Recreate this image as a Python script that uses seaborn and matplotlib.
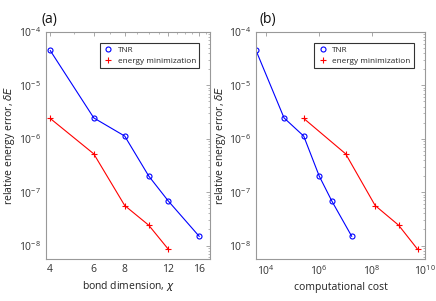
import numpy as np
import pandas as pd
import seaborn as sns
import matplotlib
matplotlib.use("Agg")
import matplotlib.pyplot as plt
from matplotlib.ticker import LogLocator, FixedLocator, NullFormatter, FixedFormatter

# ---- data ----
chi_tnr = [4, 6, 8, 10, 12, 16]
err_tnr = [4.5e-5, 2.45e-6, 1.12e-6, 2.0e-7, 6.8e-8, 1.48e-8]
cost_tnr = [4.1e3, 4.7e4, 2.6e5, 1.0e6, 3.0e6, 1.7e7]

chi_em = [4, 6, 8, 10, 12]
err_em = [2.4e-6, 5.2e-7, 5.6e-8, 2.4e-8, 8.5e-9]
cost_em = [2.6e5, 1.0e7, 1.3e8, 1.0e9, 5.2e9]

labels = ["TNR", "energy minimization"]
chi_ticks = [4, 6, 8, 12, 16]

sns.set_theme(style="white")
plt.rcParams['font.family'] = ['Open Sans', 'DejaVu Sans']
plt.rcParams['mathtext.fontset'] = 'dejavusans'

fig = plt.figure(figsize=(4.36, 3.01), dpi=100)
axA = fig.add_axes([0.105, 0.140, 0.377, 0.754])
axB = fig.add_axes([0.587, 0.140, 0.388, 0.754])

tick_col = "#333333"
spine_col = "#999999"

def style(ax):
    ax.set_yscale("log")
    ax.set_ylim(10**-8.25, 1e-4)
    for s in ax.spines.values():
        s.set_color(spine_col)
        s.set_linewidth(0.8)
    ax.tick_params(which="both", direction="in", top=True, right=True,
                   colors=spine_col, labelcolor=tick_col, labelsize=7.5)
    ax.tick_params(which="major", length=3, width=0.6)
    ax.tick_params(which="minor", length=1.6, width=0.5)
    ax.yaxis.set_major_locator(LogLocator(base=10, numticks=10))
    ax.yaxis.set_minor_locator(LogLocator(base=10, subs=np.arange(2, 10), numticks=20))
    ax.yaxis.set_minor_formatter(NullFormatter())
    ax.set_ylabel(r"relative energy error, $\delta E$", fontsize=7.5, color="#222222", labelpad=1)

def draw(ax, x1, y1, x2, y2):
    sns.lineplot(x=x1, y=y1, ax=ax, color="#0000ff", marker="o", markersize=3.6,
                 markerfacecolor="none", markeredgecolor="#0000ff", markeredgewidth=0.8,
                 linewidth=0.8, label=labels[0], sort=False)
    sns.lineplot(x=x2, y=y2, ax=ax, color="#ff0000", marker="+", markersize=4.8,
                 markeredgecolor="#ff0000", markeredgewidth=0.8,
                 linewidth=0.8, label=labels[1], sort=False)
    leg = ax.legend(loc="upper right", fontsize=5.9, frameon=True, fancybox=False,
                    edgecolor="black", borderpad=0.4, handlelength=1.2,
                    handletextpad=0.6, labelspacing=0.35, bbox_to_anchor=(0.958, 0.968))
    leg.get_frame().set_linewidth(0.8)
    for h in leg.get_lines():
        h.set_linestyle("none")

draw(axA, chi_tnr, err_tnr, chi_em, err_em)
style(axA)
axA.set_xscale("log")
axA.set_xlim(3.84, 17.7)
axA.xaxis.set_major_locator(FixedLocator(chi_ticks))
axA.xaxis.set_major_formatter(FixedFormatter([str(t) for t in chi_ticks]))
axA.xaxis.set_minor_locator(FixedLocator([5, 7, 9, 10, 11, 13, 14, 15, 17]))
axA.xaxis.set_minor_formatter(NullFormatter())
axA.set_xlabel(r"bond dimension, $\chi$", fontsize=7.5, color="#222222", labelpad=3)
axA.text(-0.024, 1.04, "(a)", transform=axA.transAxes, fontsize=10, color="#111111")

draw(axB, cost_tnr, err_tnr, cost_em, err_em)
style(axB)
axB.set_xscale("log")
axB.set_xlim(10**3.61, 1e10)
axB.xaxis.set_major_locator(FixedLocator([1e4, 1e6, 1e8, 1e10]))
axB.xaxis.set_minor_locator(FixedLocator([]))
axB.set_xlabel("computational cost", fontsize=7.5, color="#222222", labelpad=3)
axB.text(0.022, 1.04, "(b)", transform=axB.transAxes, fontsize=10, color="#111111")

fig.savefig("out.png", dpi=100)
